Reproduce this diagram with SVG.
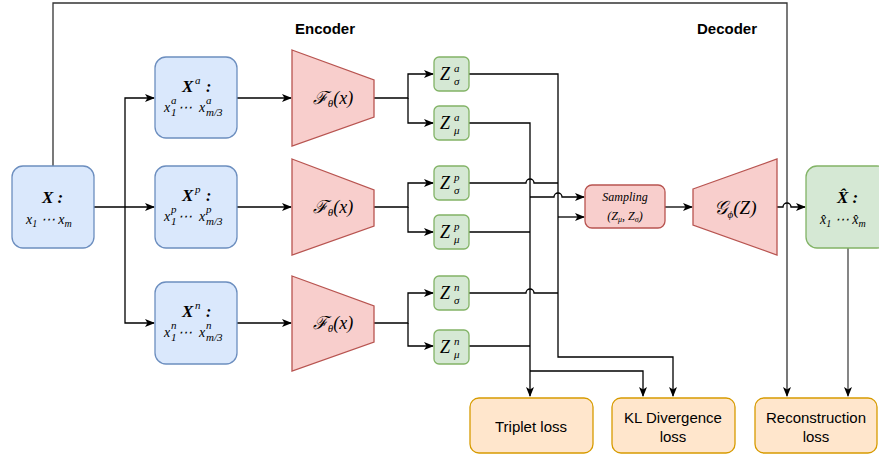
<svg xmlns="http://www.w3.org/2000/svg" width="879" height="459" viewBox="0 0 879 459">
<defs>
<marker id="arr" viewBox="0 0 10 10" refX="9" refY="5" markerWidth="10" markerHeight="10" markerUnits="userSpaceOnUse" orient="auto">
<path d="M0,1 L10,5 L0,9 L2.5,5 Z" fill="#000"/>
</marker>
<style>
.blue{fill:#dae8fc;stroke:#6c8ebf;stroke-width:1.3}
.red{fill:#f8cecc;stroke:#b85450;stroke-width:1.3}
.green{fill:#d5e8d4;stroke:#82b366;stroke-width:1.3}
.orange{fill:#ffe6cc;stroke:#d79b00;stroke-width:1.3}
.ln{fill:none;stroke:#000;stroke-width:1.3}
.m{font-family:"Liberation Serif","DejaVu Serif",serif;font-style:italic;fill:#000}
.b{font-weight:bold}
.s{font-family:"Liberation Serif","DejaVu Serif",serif;font-style:italic;font-size:11px;fill:#000}
.h{font-family:"Liberation Sans",Arial,sans-serif;font-size:15px;fill:#000;text-anchor:middle}
.t{font-family:"Liberation Sans",Arial,sans-serif;font-size:15px;font-weight:bold;fill:#000}
</style>
</defs>
<rect width="879" height="459" fill="#fff"/>

<text class="t" x="295" y="34">Encoder</text>
<text class="t" x="697" y="34">Decoder</text>

<g id="connectors">
<path class="ln" style="stroke:#333" d="M53,166 V3 H787 V396" marker-end="url(#arr)"/>
<path class="ln" d="M94,207 H154" marker-end="url(#arr)"/>
<path class="ln" d="M125,207 V98 H154" marker-end="url(#arr)"/>
<path class="ln" d="M125,207 V323 H154" marker-end="url(#arr)"/>
<path class="ln" d="M237,98 H291" marker-end="url(#arr)"/>
<path class="ln" d="M237,207 H291" marker-end="url(#arr)"/>
<path class="ln" d="M237,323 H291" marker-end="url(#arr)"/>
<path class="ln" d="M374,98 H408 V74 H433" marker-end="url(#arr)"/>
<path class="ln" d="M408,98 V123 H433" marker-end="url(#arr)"/>
<path class="ln" d="M374,207 H408 V183 H433" marker-end="url(#arr)"/>
<path class="ln" d="M408,207 V232 H433" marker-end="url(#arr)"/>
<path class="ln" d="M374,323 H408 V293 H433" marker-end="url(#arr)"/>
<path class="ln" d="M408,323 V346 H433" marker-end="url(#arr)"/>
<path class="ln" d="M469,74 H558 V357 H673 V396" marker-end="url(#arr)"/>
<path class="ln" d="M469,183 H526 A4,4 0 0 1 534,183 H558"/>
<path class="ln" d="M469,293 H526 A4,4 0 0 1 534,293 H558"/>
<path class="ln" d="M469,123 H530 V396" marker-end="url(#arr)"/>
<path class="ln" d="M469,232 H530"/>
<path class="ln" d="M469,346 H530"/>
<path class="ln" d="M530,197 H554 A4,4 0 0 1 562,197 H584" marker-end="url(#arr)"/>
<path class="ln" d="M558,217 H584" marker-end="url(#arr)"/>
<path class="ln" d="M530,371 H643 V396" marker-end="url(#arr)"/>
<path class="ln" d="M665,207 H692" marker-end="url(#arr)"/>
<path class="ln" d="M777,207 H783 A4,4 0 0 1 791,207 H805" marker-end="url(#arr)"/>
<path class="ln" style="stroke:#444" d="M848,248 V396" marker-end="url(#arr)"/>
</g>

<g id="node-X">
<rect class="blue" x="12" y="166" width="82" height="82" rx="11"/>
<text class="m b" x="42" y="203" font-size="17">X :</text>
<text class="m" x="26" y="224" font-size="14">x<tspan font-size="10" dy="3">1</tspan><tspan dy="-3"> ⋯ x</tspan><tspan font-size="10" dy="3">m</tspan></text>
</g>

<g id="node-Xa">
<rect class="blue" x="155" y="57" width="82" height="81" rx="11"/>
<text class="m b" x="182" y="92" font-size="17">X</text><text class="s" x="195" y="84">a</text><text class="m b" x="206" y="92" font-size="16">:</text>
<text class="m" x="164" y="112" font-size="14">x</text><text class="s" x="171" y="104">a</text><text class="s" x="171" y="116" font-style="normal">1</text>
<text class="m" x="178" y="112" font-size="14">⋯</text>
<text class="m" x="199" y="112" font-size="14">x</text><text class="s" x="206" y="104">a</text><text class="s" x="206" y="116">m/3</text>
</g>

<g id="node-Xp">
<rect class="blue" x="155" y="166" width="82" height="82" rx="11"/>
<text class="m b" x="182" y="201" font-size="17">X</text><text class="s" x="195" y="193">p</text><text class="m b" x="206" y="201" font-size="16">:</text>
<text class="m" x="164" y="221" font-size="14">x</text><text class="s" x="171" y="213">p</text><text class="s" x="171" y="225" font-style="normal">1</text>
<text class="m" x="178" y="221" font-size="14">⋯</text>
<text class="m" x="199" y="221" font-size="14">x</text><text class="s" x="206" y="213">p</text><text class="s" x="206" y="225">m/3</text>
</g>

<g id="node-Xn">
<rect class="blue" x="155" y="282" width="82" height="82" rx="11"/>
<text class="m b" x="182" y="317" font-size="17">X</text><text class="s" x="195" y="309">n</text><text class="m b" x="206" y="317" font-size="16">:</text>
<text class="m" x="164" y="337" font-size="14">x</text><text class="s" x="171" y="329">n</text><text class="s" x="171" y="341" font-style="normal">1</text>
<text class="m" x="178" y="337" font-size="14">⋯</text>
<text class="m" x="199" y="337" font-size="14">x</text><text class="s" x="206" y="329">n</text><text class="s" x="206" y="341">m/3</text>
</g>

<g id="enc-a">
<path class="red" d="M292,50 L374,80 L374,117 L292,146 Z"/>
<text class="m" x="333" y="104" font-size="18" text-anchor="middle">ℱ<tspan font-size="11" dy="3">θ</tspan><tspan dy="-3">(x)</tspan></text>
</g>
<g id="enc-p">
<path class="red" d="M292,159 L374,190 L374,226 L292,255 Z"/>
<text class="m" x="333" y="213" font-size="18" text-anchor="middle">ℱ<tspan font-size="11" dy="3">θ</tspan><tspan dy="-3">(x)</tspan></text>
</g>
<g id="enc-n">
<path class="red" d="M292,276 L374,306 L374,342 L292,371 Z"/>
<text class="m" x="333" y="329" font-size="18" text-anchor="middle">ℱ<tspan font-size="11" dy="3">θ</tspan><tspan dy="-3">(x)</tspan></text>
</g>

<g id="z-sigma-a">
<rect class="green" x="434" y="57" width="35" height="34" rx="5"/>
<text class="m" x="440" y="80" font-size="18">Z</text><text class="s" x="454" y="72">a</text><text class="s" x="454" y="85">σ</text>
</g>
<g id="z-mu-a">
<rect class="green" x="434" y="106" width="35" height="34" rx="5"/>
<text class="m" x="440" y="129" font-size="18">Z</text><text class="s" x="454" y="121">a</text><text class="s" x="454" y="134">μ</text>
</g>
<g id="z-sigma-p">
<rect class="green" x="434" y="166" width="35" height="34" rx="5"/>
<text class="m" x="440" y="189" font-size="18">Z</text><text class="s" x="454" y="181">p</text><text class="s" x="454" y="194">σ</text>
</g>
<g id="z-mu-p">
<rect class="green" x="434" y="215" width="35" height="34" rx="5"/>
<text class="m" x="440" y="238" font-size="18">Z</text><text class="s" x="454" y="230">p</text><text class="s" x="454" y="243">μ</text>
</g>
<g id="z-sigma-n">
<rect class="green" x="434" y="276" width="35" height="34" rx="5"/>
<text class="m" x="440" y="299" font-size="18">Z</text><text class="s" x="454" y="291">n</text><text class="s" x="454" y="304">σ</text>
</g>
<g id="z-mu-n">
<rect class="green" x="434" y="330" width="35" height="34" rx="5"/>
<text class="m" x="440" y="353" font-size="18">Z</text><text class="s" x="454" y="345">n</text><text class="s" x="454" y="358">μ</text>
</g>

<g id="sampling">
<rect class="red" x="585" y="185" width="80" height="43" rx="7"/>
<text class="m" x="625" y="201" font-size="12" text-anchor="middle">Sampling</text>
<text class="m" x="625" y="220" font-size="12" text-anchor="middle">(Z<tspan font-size="8" dy="2">μ</tspan><tspan dy="-2">, Z</tspan><tspan font-size="8" dy="2">σ</tspan><tspan dy="-2">)</tspan></text>
</g>

<g id="decoder">
<path class="red" d="M693,189 L777,159 L777,255 L693,225 Z"/>
<text class="m" x="735" y="214" font-size="19" text-anchor="middle">𝒢<tspan font-size="11" dy="4">ϕ</tspan><tspan dy="-4">(Z)</tspan></text>
</g>

<g id="node-Xhat">
<rect class="green" x="806" y="166" width="82" height="82" rx="11"/>
<text class="m b" x="837" y="203" font-size="17">X̂ :</text>
<text class="m" x="820" y="224" font-size="14">x̂<tspan font-size="10" dy="3">1</tspan><tspan dy="-3"> ⋯ x̂</tspan><tspan font-size="10" dy="3">m</tspan></text>
</g>

<g id="triplet-loss">
<rect class="orange" x="470" y="398" width="123" height="55" rx="9"/>
<text class="h" x="531" y="432">Triplet loss</text>
</g>
<g id="kl-loss">
<rect class="orange" x="612" y="398" width="123" height="55" rx="9"/>
<text class="h" x="673" y="423">KL Divergence</text>
<text class="h" x="673" y="442">loss</text>
</g>
<g id="recon-loss">
<rect class="orange" x="755" y="398" width="122" height="55" rx="9"/>
<text class="h" x="816" y="423">Reconstruction</text>
<text class="h" x="816" y="442">loss</text>
</g>
</svg>
